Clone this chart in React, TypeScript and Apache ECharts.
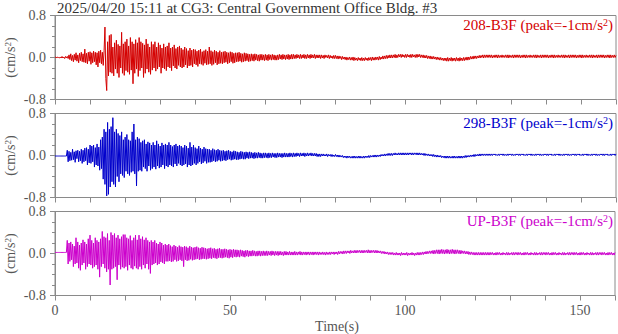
import React, { useEffect, useRef } from "react";
import * as echarts from "echarts";

const TITLE = "2025/04/20 15:11 at CG3: Central Government Office Bldg. #3";
const X_LABEL = "Time(s)";
const Y_UNIT = "(cm/s{sup|2})";
const SAMPLE_STEP = 0.25; // s between samples, 0 s – 160 s (16 samples per row = 4 s)
const X_MIN = 0;
const X_MAX = 160;
const X_TICK_STEP = 10;
const X_LABEL_STEP = 50;
const Y_MIN = -0.8;
const Y_MAX = 0.8;
const Y_TICK_STEP = 0.8;
const CHANNELS = ["208-B3F", "298-B3F", "UP-B3F"];
const PEAKS = ["-1", "-1", "-1"];
const COLORS = ["#d40000", "#0000cc", "#cc00cc"];

// ---- 208 component ----
const ch208 = [
  0.0, 0.01, -0.01, 0.01, 0.0, -0.01, 0.01, -0.01, 0.02, -0.01, 0.01, -0.02, 0.02, -0.01, 0.02, -0.02,
  0.05, -0.04, 0.07, -0.06, 0.04, -0.08, 0.06, -0.05, 0.09, -0.07, 0.05, -0.1, 0.08, -0.06, 0.1, -0.08,
  0.07, -0.09, 0.16, -0.1, 0.08, -0.12, 0.1, -0.07, 0.11, -0.13, 0.09, -0.1, 0.12, -0.08, 0.1, -0.14,
  0.09, -0.18, 0.12, -0.1, 0.14, -0.12, 0.1, -0.15, 0.13, 0.58, -0.4, -0.63, 0.3, -0.35, 0.42, -0.28,
  0.44, -0.3, 0.2, -0.35, 0.28, -0.22, 0.33, -0.3, 0.25, -0.38, 0.22, -0.2, 0.48, -0.3, 0.26, -0.34,
  0.3, -0.25, 0.35, -0.28, 0.22, -0.32, 0.38, -0.24, 0.3, -0.5, 0.26, -0.3, 0.34, -0.22, 0.28, -0.36,
  0.38, -0.25, 0.3, -0.2, 0.27, -0.38, 0.24, -0.3, 0.35, -0.22, 0.26, -0.28, 0.2, -0.32, 0.3, -0.24,
  0.25, -0.2, 0.3, -0.26, 0.2, -0.22, 0.28, -0.18, 0.24, -0.3, 0.18, -0.2, 0.26, -0.22, 0.2, -0.25,
  0.22, -0.18, 0.28, -0.2, 0.18, -0.25, 0.2, -0.16, 0.24, -0.2, 0.17, -0.22, 0.2, -0.15, 0.22, -0.18,
  0.18, -0.2, 0.15, -0.18, 0.2, -0.14, 0.17, -0.2, 0.13, -0.16, 0.18, -0.15, 0.14, -0.18, 0.16, -0.12,
  0.15, -0.14, 0.12, -0.17, 0.14, -0.12, 0.16, -0.13, 0.11, -0.15, 0.13, -0.11, 0.15, -0.14, 0.12, -0.13,
  0.2, -0.12, 0.13, -0.15, 0.11, -0.13, 0.14, -0.1, 0.12, -0.14, 0.1, -0.12, 0.13, -0.11, 0.1, -0.12,
  0.11, -0.1, 0.12, -0.09, 0.1, -0.12, 0.09, -0.1, 0.11, -0.08, 0.1, -0.11, 0.08, -0.1, 0.09, -0.08,
  0.09, -0.08, 0.1, -0.07, 0.08, -0.09, 0.07, -0.08, 0.09, -0.07, 0.08, -0.06, 0.07, -0.08, 0.06, -0.07,
  0.07, -0.06, 0.06, -0.07, 0.07, -0.05, 0.06, -0.06, 0.05, -0.07, 0.06, -0.05, 0.06, -0.05, 0.05, -0.06,
  0.06, -0.05, 0.05, -0.06, 0.06, -0.04, 0.05, -0.05, 0.06, -0.04, 0.05, -0.05, 0.04, -0.05, 0.05, -0.04,
  0.06, -0.03, 0.05, -0.04, 0.06, -0.03, 0.05, -0.04, 0.05, -0.03, 0.06, -0.04, 0.05, -0.03, 0.06, -0.03,
  0.06, -0.02, 0.05, -0.02, 0.06, -0.01, 0.05, -0.02, 0.06, -0.02, 0.05, -0.01, 0.06, -0.02, 0.05, -0.02,
  0.06, -0.01, 0.05, -0.02, 0.06, -0.01, 0.05, -0.01, 0.06, -0.02, 0.05, -0.01, 0.05, -0.01, 0.05, -0.02,
  0.05, -0.01, 0.04, -0.02, 0.05, 0.0, 0.04, -0.01, 0.05, -0.02, 0.04, -0.01, 0.03, -0.02, 0.04, -0.02,
  0.04, -0.02, 0.03, -0.03, 0.03, -0.02, 0.02, -0.04, 0.02, -0.03, 0.01, -0.04, 0.01, -0.05, 0.0, -0.04,
  0.01, -0.05, 0.0, -0.05, 0.01, -0.06, 0.0, -0.05, -0.01, -0.06, 0.0, -0.05, -0.01, -0.06, 0.0, -0.06,
  -0.01, -0.06, 0.0, -0.05, -0.01, -0.06, 0.0, -0.05, 0.0, -0.06, 0.01, -0.05, 0.0, -0.05, 0.01, -0.04,
  0.01, -0.05, 0.02, -0.04, 0.01, -0.03, 0.03, -0.03, 0.03, -0.02, 0.04, -0.02, 0.04, -0.01, 0.05, -0.01,
  0.05, -0.01, 0.05, 0.0, 0.06, -0.01, 0.05, 0.0, 0.06, 0.01, 0.06, 0.0, 0.06, 0.01, 0.05, 0.0,
  0.06, 0.0, 0.06, 0.01, 0.05, 0.0, 0.06, 0.0, 0.06, 0.01, 0.05, 0.0, 0.06, 0.0, 0.06, 0.01,
  0.06, 0.0, 0.05, 0.0, 0.05, -0.01, 0.04, -0.01, 0.04, -0.02, 0.03, -0.02, 0.03, -0.03, 0.02, -0.03,
  0.02, -0.03, 0.01, -0.04, 0.01, -0.04, 0.0, -0.05, 0.0, -0.05, -0.01, -0.06, -0.01, -0.06, -0.01, -0.07,
  0.0, -0.07, -0.01, -0.06, 0.0, -0.07, -0.01, -0.06, -0.01, -0.07, 0.0, -0.06, -0.01, -0.07, 0.0, -0.06,
  -0.01, -0.06, 0.0, -0.06, 0.0, -0.05, 0.01, -0.05, 0.01, -0.04, 0.02, -0.03, 0.02, -0.03, 0.03, -0.02,
  0.03, -0.02, 0.03, -0.01, 0.04, -0.01, 0.04, 0.0, 0.05, -0.01, 0.05, 0.0, 0.05, 0.0, 0.05, 0.0,
  0.05, 0.0, 0.05, -0.01, 0.04, 0.0, 0.05, 0.0, 0.05, -0.01, 0.05, 0.0, 0.04, 0.0, 0.05, 0.0,
  0.04, 0.0, 0.05, 0.0, 0.05, -0.01, 0.05, 0.0, 0.04, 0.0, 0.05, -0.01, 0.05, 0.0, 0.05, 0.0,
  0.05, 0.0, 0.05, -0.01, 0.04, 0.0, 0.05, 0.0, 0.05, -0.01, 0.05, 0.0, 0.04, 0.0, 0.05, 0.0,
  0.04, 0.0, 0.05, 0.0, 0.05, -0.01, 0.05, 0.0, 0.04, 0.0, 0.05, -0.01, 0.05, 0.0, 0.05, 0.0,
  0.05, 0.0, 0.05, -0.01, 0.04, 0.0, 0.05, 0.0, 0.05, -0.01, 0.05, 0.0, 0.04, 0.0, 0.05, 0.0,
  0.04, 0.0, 0.05, 0.0, 0.05, -0.01, 0.05, 0.0, 0.04, 0.0, 0.05, -0.01, 0.05, 0.0, 0.05, 0.0,
  0.05, 0.0, 0.05, -0.01, 0.04, 0.0, 0.05, 0.0, 0.05, -0.01, 0.05, 0.0, 0.04, 0.0, 0.05, 0.0,
  0.04, 0.0, 0.05, 0.0, 0.05, -0.01, 0.05, 0.0, 0.04, 0.0, 0.05, -0.01, 0.05, 0.0, 0.05, 0.0,
  0.05, 0.0, 0.05, -0.01, 0.04, 0.0, 0.05, 0.0, 0.05, -0.01, 0.05, 0.0, 0.04, 0.0, 0.05, 0.0,
  0.04,
];

// ---- 298 component ----
const ch298 = [
  -0.01, -0.01, -0.01, -0.01, -0.01, -0.01, -0.01, -0.01, -0.01, -0.01, -0.01, -0.01, -0.01, -0.01, 0.1, -0.12,
  0.08, -0.1, 0.06, -0.09, 0.12, -0.08, 0.07, -0.13, 0.09, -0.06, 0.1, -0.12, 0.08, -0.1, 0.12, -0.15,
  0.1, -0.12, 0.14, -0.1, 0.15, -0.18, 0.12, -0.14, 0.2, -0.15, 0.18, -0.12, 0.2, -0.22, 0.15, -0.18,
  0.22, -0.2, 0.16, -0.28, 0.3, -0.25, 0.35, -0.45, 0.5, -0.55, 0.45, -0.77, 0.63, -0.74, 0.5, -0.6,
  0.55, -0.5, 0.72, -0.55, 0.45, -0.6, 0.5, -0.4, 0.42, -0.5, 0.38, -0.35, 0.45, -0.38, 0.3, -0.42,
  0.35, -0.3, 0.4, -0.35, 0.3, -0.38, 0.28, -0.32, 0.45, -0.3, 0.6, -0.35, 0.3, -0.58, 0.35, -0.3,
  0.32, -0.28, 0.25, -0.3, 0.28, -0.22, 0.3, -0.25, 0.22, -0.3, 0.26, -0.2, 0.24, -0.28, 0.2, -0.25,
  0.25, -0.22, 0.2, -0.26, 0.28, -0.2, 0.22, -0.24, 0.18, -0.22, 0.24, -0.18, 0.2, -0.25, 0.22, -0.2,
  0.2, -0.22, 0.25, -0.18, 0.2, -0.2, 0.17, -0.22, 0.2, -0.16, 0.22, -0.2, 0.18, -0.15, 0.2, -0.18,
  0.18, -0.2, 0.15, -0.18, 0.2, -0.16, 0.18, -0.22, 0.14, -0.18, 0.25, -0.2, 0.16, -0.18, 0.2, -0.15,
  0.15, -0.18, 0.13, -0.15, 0.18, -0.12, 0.14, -0.16, 0.12, -0.14, 0.16, -0.11, 0.13, -0.15, 0.12, -0.13,
  0.12, -0.13, 0.1, -0.12, 0.13, -0.1, 0.11, -0.12, 0.1, -0.11, 0.12, -0.09, 0.1, -0.11, 0.09, -0.1,
  0.1, -0.09, 0.08, -0.1, 0.09, -0.08, 0.1, -0.07, 0.08, -0.09, 0.07, -0.08, 0.09, -0.07, 0.08, -0.08,
  0.07, -0.08, 0.06, -0.07, 0.08, -0.06, 0.07, -0.07, 0.06, -0.07, 0.07, -0.05, 0.06, -0.06, 0.07, -0.05,
  0.06, -0.05, 0.05, -0.06, 0.06, -0.05, 0.05, -0.05, 0.06, -0.04, 0.05, -0.05, 0.04, -0.05, 0.05, -0.04,
  0.05, -0.04, 0.04, -0.05, 0.05, -0.04, 0.04, -0.04, 0.05, -0.03, 0.04, -0.04, 0.04, -0.04, 0.05, -0.03,
  0.04, -0.03, 0.04, -0.04, 0.04, -0.03, 0.05, -0.03, 0.04, -0.03, 0.04, -0.03, 0.05, -0.02, 0.04, -0.03,
  0.05, -0.02, 0.04, -0.02, 0.05, -0.01, 0.04, -0.02, 0.05, -0.01, 0.04, -0.01, 0.05, -0.02, 0.04, -0.01,
  0.05, -0.01, 0.04, 0.0, 0.05, -0.01, 0.04, -0.01, 0.04, -0.01, 0.04, -0.02, 0.03, -0.02, 0.03, -0.02,
  0.03, -0.01, 0.03, -0.01, 0.02, -0.01, 0.03, -0.02, 0.02, -0.01, 0.02, -0.02, 0.02, -0.02, 0.01, -0.02,
  0.02, -0.02, 0.01, -0.03, 0.01, -0.03, 0.0, -0.03, 0.0, -0.04, -0.01, -0.04, -0.01, -0.05, -0.01, -0.04,
  -0.01, -0.05, -0.02, -0.05, -0.01, -0.05, -0.01, -0.05, -0.02, -0.05, -0.01, -0.05, -0.01, -0.05, -0.02, -0.05,
  -0.01, -0.05, -0.01, -0.04, -0.01, -0.04, 0.0, -0.04, 0.0, -0.03, 0.0, -0.03, 0.01, -0.03, 0.01, -0.03,
  0.01, -0.02, 0.01, -0.02, 0.02, -0.01, 0.02, -0.01, 0.03, -0.01, 0.03, 0.0, 0.04, 0.0, 0.04, 0.0,
  0.04, 0.0, 0.04, 0.01, 0.05, 0.01, 0.04, 0.01, 0.05, 0.01, 0.05, 0.01, 0.05, 0.01, 0.05, 0.01,
  0.05, 0.01, 0.05, 0.01, 0.05, 0.02, 0.05, 0.01, 0.05, 0.01, 0.05, 0.02, 0.05, 0.01, 0.05, 0.01,
  0.05, 0.01, 0.04, 0.01, 0.04, 0.0, 0.04, 0.0, 0.03, 0.0, 0.03, -0.01, 0.02, -0.01, 0.02, -0.02,
  0.02, -0.02, 0.01, -0.03, 0.01, -0.03, 0.0, -0.03, 0.0, -0.04, -0.01, -0.04, -0.01, -0.05, -0.01, -0.05,
  -0.01, -0.05, -0.01, -0.05, -0.02, -0.05, -0.01, -0.05, -0.01, -0.05, -0.02, -0.05, -0.01, -0.05, -0.01, -0.05,
  -0.01, -0.05, -0.01, -0.04, 0.0, -0.04, 0.0, -0.03, 0.0, -0.03, 0.01, -0.02, 0.01, -0.02, 0.02, -0.02,
  0.02, -0.01, 0.02, -0.01, 0.03, -0.01, 0.03, 0.0, 0.03, 0.0, 0.03, 0.0, 0.03, 0.0, 0.03, 0.0,
  0.03, 0.0, 0.03, 0.0, 0.03, 0.01, 0.03, 0.0, 0.02, 0.0, 0.03, 0.0, 0.03, 0.01, 0.03, 0.0,
  0.03, 0.0, 0.02, 0.0, 0.03, 0.0, 0.03, 0.01, 0.03, 0.0, 0.03, 0.0, 0.02, 0.0, 0.03, 0.01,
  0.03, 0.0, 0.03, 0.0, 0.03, 0.01, 0.03, 0.0, 0.02, 0.0, 0.03, 0.0, 0.03, 0.01, 0.03, 0.0,
  0.03, 0.0, 0.02, 0.0, 0.03, 0.0, 0.03, 0.01, 0.03, 0.0, 0.03, 0.0, 0.02, 0.0, 0.03, 0.01,
  0.03, 0.0, 0.03, 0.0, 0.03, 0.01, 0.03, 0.0, 0.02, 0.0, 0.03, 0.0, 0.03, 0.01, 0.03, 0.0,
  0.03, 0.0, 0.02, 0.0, 0.03, 0.0, 0.03, 0.01, 0.03, 0.0, 0.03, 0.0, 0.02, 0.0, 0.03, 0.01,
  0.03, 0.0, 0.03, 0.0, 0.03, 0.01, 0.03, 0.0, 0.02, 0.0, 0.03, 0.0, 0.03, 0.01, 0.03, 0.0,
  0.03, 0.0, 0.02, 0.0, 0.03, 0.0, 0.03, 0.01, 0.03, 0.0, 0.03, 0.0, 0.02, 0.0, 0.03, 0.01,
  0.03, 0.0, 0.03, 0.0, 0.03, 0.01, 0.03, 0.0, 0.02, 0.0, 0.03, 0.0, 0.03, 0.01, 0.03, 0.0,
  0.03,
];

// ---- UP (vertical) component ----
const chUP = [
  0.02, 0.02, 0.02, 0.02, 0.02, 0.02, 0.02, 0.02, 0.02, 0.02, 0.02, 0.02, 0.02, 0.02, 0.25, -0.2,
  0.2, -0.15, 0.22, -0.12, 0.18, -0.25, 0.14, -0.2, 0.3, -0.18, 0.22, -0.28, 0.16, -0.32, 0.2, -0.22,
  0.26, -0.18, 0.22, -0.3, 0.18, -0.25, 0.28, -0.2, 0.35, -0.22, 0.25, -0.28, 0.2, -0.25, 0.3, -0.22,
  0.25, -0.3, 0.22, -0.45, 0.28, -0.25, 0.42, -0.2, 0.32, -0.28, 0.3, -0.35, 0.38, -0.3, 0.25, -0.6,
  0.4, -0.3, 0.35, -0.28, 0.38, -0.25, 0.3, -0.5, 0.35, -0.22, 0.28, -0.3, 0.32, -0.26, 0.36, -0.28,
  0.36, -0.25, 0.3, -0.32, 0.28, -0.22, 0.34, -0.28, 0.25, -0.3, 0.3, -0.24, 0.35, -0.28, 0.26, -0.3,
  0.35, -0.25, 0.28, -0.3, 0.32, -0.22, 0.26, -0.28, 0.3, -0.2, 0.25, -0.3, 0.22, -0.38, 0.25, -0.22,
  0.22, -0.2, 0.25, -0.18, 0.2, -0.22, 0.18, -0.2, 0.22, -0.16, 0.2, -0.18, 0.16, -0.2, 0.18, -0.15,
  0.16, -0.15, 0.18, -0.14, 0.15, -0.16, 0.13, -0.15, 0.16, -0.12, 0.14, -0.15, 0.12, -0.14, 0.15, -0.12,
  0.13, -0.14, 0.12, -0.25, 0.14, -0.12, 0.13, -0.14, 0.11, -0.13, 0.14, -0.11, 0.12, -0.13, 0.11, -0.12,
  0.12, -0.11, 0.13, -0.1, 0.11, -0.12, 0.1, -0.11, 0.12, -0.1, 0.11, -0.1, 0.1, -0.11, 0.09, -0.1,
  0.1, -0.09, 0.11, -0.1, 0.09, -0.08, 0.1, -0.09, 0.08, -0.1, 0.09, -0.08, 0.1, -0.08, 0.08, -0.09,
  0.08, -0.08, 0.09, -0.07, 0.08, -0.08, 0.07, -0.09, 0.08, -0.07, 0.07, -0.08, 0.08, -0.06, 0.07, -0.07,
  0.07, -0.06, 0.06, -0.07, 0.07, -0.05, 0.06, -0.06, 0.05, -0.07, 0.06, -0.05, 0.06, -0.06, 0.05, -0.05,
  0.05, -0.05, 0.06, -0.04, 0.05, -0.05, 0.04, -0.05, 0.05, -0.04, 0.05, -0.05, 0.04, -0.04, 0.05, -0.04,
  0.04, -0.04, 0.05, -0.04, 0.04, -0.03, 0.04, -0.04, 0.05, -0.03, 0.04, -0.04, 0.04, -0.03, 0.04, -0.04,
  0.04, -0.03, 0.04, -0.03, 0.03, -0.04, 0.04, -0.03, 0.04, -0.03, 0.03, -0.03, 0.04, -0.03, 0.03, -0.03,
  0.03, -0.03, 0.04, -0.03, 0.03, -0.03, 0.03, -0.02, 0.04, -0.03, 0.03, -0.03, 0.03, -0.02, 0.03, -0.03,
  0.03, -0.02, 0.03, -0.03, 0.03, -0.02, 0.03, -0.03, 0.03, -0.02, 0.03, -0.02, 0.03, -0.03, 0.03, -0.02,
  0.02, -0.02, 0.03, -0.02, 0.02, -0.03, 0.03, -0.02, 0.02, -0.02, 0.03, -0.02, 0.03, -0.01, 0.03, -0.02,
  0.03, -0.01, 0.03, -0.02, 0.04, -0.01, 0.04, 0.0, 0.04, -0.01, 0.05, 0.0, 0.05, 0.0, 0.05, 0.01,
  0.05, 0.0, 0.06, 0.01, 0.05, 0.01, 0.06, 0.01, 0.06, 0.01, 0.06, 0.02, 0.06, 0.01, 0.06, 0.01,
  0.06, 0.01, 0.06, 0.02, 0.06, 0.01, 0.07, 0.01, 0.06, 0.01, 0.06, 0.02, 0.06, 0.01, 0.06, 0.01,
  0.06, 0.01, 0.05, 0.01, 0.05, 0.0, 0.04, 0.0, 0.04, -0.01, 0.03, -0.01, 0.03, -0.02, 0.02, -0.02,
  0.02, -0.02, 0.02, -0.03, 0.01, -0.03, 0.02, -0.03, 0.01, -0.03, 0.01, -0.04, 0.02, -0.03, 0.01, -0.03,
  0.01, -0.03, 0.02, -0.04, 0.01, -0.03, 0.01, -0.03, 0.02, -0.03, 0.01, -0.04, 0.01, -0.03, 0.02, -0.03,
  0.02, -0.03, 0.02, -0.02, 0.03, -0.02, 0.03, -0.01, 0.04, -0.01, 0.04, 0.0, 0.05, 0.0, 0.05, 0.0,
  0.06, -0.01, 0.06, 0.0, 0.07, 0.0, 0.07, -0.01, 0.07, 0.0, 0.08, 0.0, 0.07, -0.01, 0.07, 0.0,
  0.08, 0.0, 0.07, -0.01, 0.07, 0.0, 0.08, 0.0, 0.07, -0.01, 0.07, 0.0, 0.07, 0.0, 0.06, -0.01,
  0.06, 0.0, 0.05, 0.0, 0.05, -0.01, 0.04, -0.01, 0.04, -0.02, 0.03, -0.02, 0.03, -0.02, 0.02, -0.03,
  0.02, -0.03, 0.02, -0.03, 0.02, -0.03, 0.02, -0.03, 0.02, -0.03, 0.02, -0.03, 0.02, -0.03, 0.02, -0.03,
  0.02, -0.03, 0.02, -0.02, 0.02, -0.03, 0.01, -0.03, 0.02, -0.03, 0.02, -0.02, 0.02, -0.03, 0.01, -0.03,
  0.02, -0.02, 0.01, -0.03, 0.02, -0.03, 0.02, -0.03, 0.01, -0.02, 0.02, -0.03, 0.02, -0.03, 0.02, -0.02,
  0.02, -0.03, 0.02, -0.02, 0.02, -0.03, 0.01, -0.03, 0.02, -0.03, 0.02, -0.02, 0.02, -0.03, 0.01, -0.03,
  0.02, -0.02, 0.01, -0.03, 0.02, -0.03, 0.02, -0.03, 0.01, -0.02, 0.02, -0.03, 0.02, -0.03, 0.02, -0.02,
  0.02, -0.03, 0.02, -0.02, 0.02, -0.03, 0.01, -0.03, 0.02, -0.03, 0.02, -0.02, 0.02, -0.03, 0.01, -0.03,
  0.02, -0.02, 0.01, -0.03, 0.02, -0.03, 0.02, -0.03, 0.01, -0.02, 0.02, -0.03, 0.02, -0.03, 0.02, -0.02,
  0.02, -0.03, 0.02, -0.02, 0.02, -0.03, 0.01, -0.03, 0.02, -0.03, 0.02, -0.02, 0.02, -0.03, 0.01, -0.03,
  0.02, -0.02, 0.01, -0.03, 0.02, -0.03, 0.02, -0.03, 0.01, -0.02, 0.02, -0.03, 0.02, -0.03, 0.02, -0.02,
  0.02, -0.03, 0.02, -0.02, 0.02, -0.03, 0.01, -0.03, 0.02, -0.03, 0.02, -0.02, 0.02, -0.03, 0.01, -0.03,
  0.02,
];

const TRACES = [ch208, ch298, chUP];

const FONT = "'Liberation Serif', 'Times New Roman', serif";
const AXIS_COLOR = "#8a8a8a";
const TEXT_COLOR = "#555555";
const GRID_LEFT = 55;
const GRID_RIGHT = 2;
const GRID_TOPS = [15.5, 113.5, 211.5];
const GRID_HEIGHT = 84;

export default function App() {
  const ref = useRef<HTMLDivElement>(null);

  useEffect(() => {
    if (!ref.current) return;
    const chart = echarts.init(ref.current, null, { renderer: "svg" });

    const grids = GRID_TOPS.map((top) => ({
      left: GRID_LEFT,
      right: GRID_RIGHT,
      top,
      height: GRID_HEIGHT,
      show: true,
      borderColor: AXIS_COLOR,
      borderWidth: 1,
      backgroundColor: "transparent",
    }));

    const xAxes = GRID_TOPS.map((_, i) => ({
      type: "value",
      gridIndex: i,
      min: X_MIN,
      max: X_MAX,
      interval: X_TICK_STEP,
      axisLine: { show: true, onZero: false, lineStyle: { color: AXIS_COLOR } },
      axisTick: { show: true, inside: false, length: 5, lineStyle: { color: AXIS_COLOR } },
      splitLine: { show: false },
      axisLabel: {
        show: i === 2,
        margin: 8,
        fontFamily: FONT,
        fontSize: 14,
        color: TEXT_COLOR,
        formatter: (v: number) => (v % X_LABEL_STEP === 0 ? String(v) : ""),
      },
    }));

    const yAxes = GRID_TOPS.map((_, i) => ({
      type: "value",
      gridIndex: i,
      min: Y_MIN,
      max: Y_MAX,
      interval: Y_TICK_STEP,
      axisLine: { show: true, onZero: false, lineStyle: { color: AXIS_COLOR } },
      axisTick: { show: true, inside: false, length: 5, lineStyle: { color: AXIS_COLOR } },
      minorTick: { show: true, splitNumber: 4, length: 3, lineStyle: { color: AXIS_COLOR } },
      splitLine: { show: false },
      axisLabel: {
        margin: 9,
        fontFamily: FONT,
        fontSize: 14,
        color: TEXT_COLOR,
        formatter: (v: number) => v.toFixed(1),
      },
    }));

    const series = TRACES.map((vals, i) => ({
      type: "line",
      xAxisIndex: i,
      yAxisIndex: i,
      data: vals.map((v, k) => [k * SAMPLE_STEP, v]),
      showSymbol: false,
      symbol: "none",
      clip: true,
      lineStyle: { color: COLORS[i], width: 1 },
      itemStyle: { color: COLORS[i] },
    }));

    const graphic: any[] = [
      {
        type: "text",
        left: 57,
        top: 0,
        style: { text: TITLE, font: `15px ${FONT}`, fill: "#333333" },
      },
      {
        type: "text",
        x: 337,
        y: 326,
        style: {
          text: X_LABEL,
          font: `14px ${FONT}`,
          fill: TEXT_COLOR,
          align: "center",
          verticalAlign: "middle",
        },
      },
    ];

    GRID_TOPS.forEach((top, i) => {
      graphic.push({
        type: "text",
        x: 10,
        y: top + GRID_HEIGHT / 2,
        rotation: Math.PI / 2,
        style: {
          text: Y_UNIT,
          font: `14px ${FONT}`,
          fill: TEXT_COLOR,
          align: "center",
          verticalAlign: "middle",
          rich: {
            sup: { fontSize: 9, fontFamily: FONT, verticalAlign: "top", fill: TEXT_COLOR },
          },
        },
      });
      graphic.push({
        type: "text",
        x: 613,
        y: top + 17,
        style: {
          text: `${CHANNELS[i]} (peak=${PEAKS[i]}cm/s{sup|2})`,
          font: `15px ${FONT}`,
          fill: COLORS[i],
          align: "right",
          verticalAlign: "bottom",
          rich: {
            sup: { fontSize: 10, fontFamily: FONT, verticalAlign: "top", fill: COLORS[i] },
          },
        },
      });
    });

    chart.setOption({
      animation: false,
      backgroundColor: "#ffffff",
      grid: grids,
      xAxis: xAxes,
      yAxis: yAxes,
      series,
      graphic,
    });

    return () => chart.dispose();
  }, []);

  return (
    <div
      ref={ref}
      style={{ position: "fixed", left: 0, top: 0, width: 618, height: 334 }}
    />
  );
}
